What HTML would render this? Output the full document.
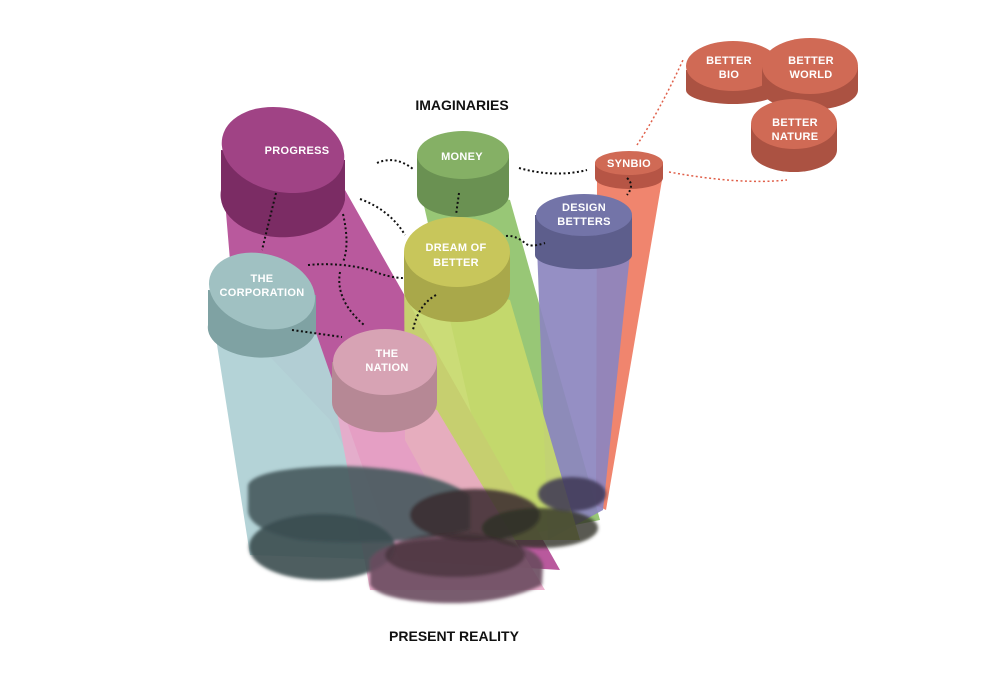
<!DOCTYPE html>
<html><head><meta charset="utf-8"><style>
html,body{margin:0;padding:0;background:#fff;}
svg{display:block;}
text{font-family:"Liberation Sans",sans-serif;font-weight:bold;}
.l{fill:#fff;font-size:11px;text-anchor:middle;letter-spacing:0.3px;}
.d{fill:none;stroke:#111;stroke-width:2;stroke-dasharray:2 2.5;}
.r{fill:none;stroke:#e0604a;stroke-width:1.5;stroke-dasharray:2 2.5;}
</style></head><body>
<svg width="1000" height="691" viewBox="0 0 1000 691" xmlns="http://www.w3.org/2000/svg">
<defs>
<filter id="bl" x="-20%" y="-50%" width="140%" height="200%"><feGaussianBlur stdDeviation="1.5"/></filter>
</defs>
<!-- beams -->
<polygon points="597,180 662,180 606,510 596,505" fill="#f0856e"/>
<polygon points="417,175 510,200 600,520 500,540" fill="#92c46f" opacity="0.95"/>
<polygon points="536,220 632,235 603,510 548,540" fill="#8c86bf" opacity="0.92"/>
<polygon points="222,165 345,190 560,570 400,560 330,420 235,320" fill="#b9599d"/>
<polygon points="404,262 510,300 580,540 460,540 405,440" fill="#c7d96b" opacity="0.92"/>
<polygon points="210,300 315,330 395,560 250,555" fill="#b2d2d6" opacity="0.97"/>
<polygon points="332,385 437,410 545,590 370,590" fill="#eaa9c9" opacity="0.88"/>
<!-- shadows -->
<g filter="url(#bl)">
<path d="M248,485 Q255,468 340,466 Q430,468 470,495 L470,530 Q390,548 300,540 Q248,530 248,510Z" fill="#46595d" opacity="0.9"/>
<ellipse cx="322" cy="547" rx="73" ry="33" fill="#3a4c50" opacity="0.9"/>
<path d="M370,560 Q380,540 450,538 Q535,538 543,565 L542,585 Q500,605 440,603 Q380,600 370,585Z" fill="#6a4a5e" opacity="0.9"/>
<ellipse cx="475" cy="515" rx="65" ry="26" fill="#3a2b30" opacity="0.85"/>
<ellipse cx="540" cy="528" rx="58" ry="20" fill="#303024" opacity="0.8"/>
<ellipse cx="572" cy="494" rx="34" ry="17" fill="#3c3654" opacity="0.85"/>
<ellipse cx="455" cy="555" rx="70" ry="22" fill="#3a2b30" opacity="0.6"/>
</g>
<!-- PROGRESS -->
<path d="M221,150 L221,190 A62,42 0 0 0 345,200 L345,160Z" fill="#7b2c64"/>
<ellipse cx="283" cy="150" rx="62" ry="42" transform="rotate(12 283 150)" fill="#a04385"/>
<!-- MONEY -->
<path d="M417,155 L417,195 A46,22 0 0 0 509,195 L509,155Z" fill="#6a9152"/>
<ellipse cx="463" cy="155" rx="46" ry="24" fill="#85b065"/>
<!-- SYNBIO -->
<path d="M595,163 L595,178 A34,11 0 0 0 663,178 L663,163Z" fill="#b65545"/>
<ellipse cx="629" cy="163" rx="34" ry="12" fill="#d06a55"/>
<!-- DESIGN BETTERS -->
<path d="M535,215 L535,255 A48,14 0 0 0 632,255 L632,215Z" fill="#5d5e8c"/>
<ellipse cx="584" cy="215" rx="48" ry="21" fill="#7374a8"/>
<!-- DREAM OF BETTER -->
<path d="M404,252 L404,290 A53,32 0 0 0 510,290 L510,252Z" fill="#a9a84a"/>
<ellipse cx="457" cy="252" rx="53" ry="35" fill="#c8c65b"/>
<!-- CORPORATION -->
<path d="M208,290 L208,325 A54,30 0 0 0 316,330 L316,295Z" fill="#7fa2a3"/>
<ellipse cx="262" cy="291" rx="54" ry="37" transform="rotate(15 262 291)" fill="#a0c1c2"/>
<!-- NATION -->
<path d="M332,362 L332,402 A52,30 0 0 0 437,402 L437,362Z" fill="#b68895"/>
<ellipse cx="385" cy="362" rx="52" ry="33" fill="#d7a3b4"/>
<!-- BETTER trio -->
<path d="M686,70 L686,90 A47,14 0 0 0 780,90 L780,70Z" fill="#ab5242"/>
<ellipse cx="733" cy="66" rx="47" ry="25" fill="#d06a55"/>
<path d="M762,67 L762,90 A48,20 0 0 0 858,90 L858,67Z" fill="#ab5242"/>
<ellipse cx="810" cy="66" rx="48" ry="28" fill="#d06a55"/>
<path d="M751,125 L751,150 A43,22 0 0 0 837,150 L837,125Z" fill="#ab5242"/>
<ellipse cx="794" cy="124" rx="43" ry="25" fill="#d06a55"/>
<!-- dotted connectors -->
<path class="d" d="M377,163 Q395,155 413,169"/>
<path class="d" d="M519,168 Q555,178 587,170"/>
<path class="d" d="M627,178 Q635,185 627,195"/>
<path class="d" d="M459,193 L456,215"/>
<path class="d" d="M360,199 Q390,210 405,235"/>
<path class="d" d="M506,236 Q515,235 525,243 Q530,248 545,243"/>
<path class="d" d="M276,193 L262,250"/>
<path class="d" d="M343,214 Q350,245 343,262"/>
<path class="d" d="M308,265 Q340,262 370,270 Q390,278 403,278"/>
<path class="d" d="M340,272 Q335,300 364,325"/>
<path class="d" d="M292,330 L342,337"/>
<path class="d" d="M436,295 Q418,305 413,330"/>
<path class="r" d="M637,145 Q660,110 683,60"/>
<path class="r" d="M669,172 Q740,185 787,180"/>
<!-- labels -->
<text x="462" y="110" text-anchor="middle" font-size="14" fill="#111">IMAGINARIES</text>
<text x="454" y="641" text-anchor="middle" font-size="14" fill="#111">PRESENT REALITY</text>
<text class="l" x="297" y="154">PROGRESS</text>
<text class="l" x="462" y="160">MONEY</text>
<text class="l" x="629" y="167">SYNBIO</text>
<text class="l" x="584" y="211">DESIGN</text><text class="l" x="584" y="225">BETTERS</text>
<text class="l" x="456" y="251">DREAM OF</text><text class="l" x="456" y="266">BETTER</text>
<text class="l" x="262" y="282">THE</text><text class="l" x="262" y="296">CORPORATION</text>
<text class="l" x="387" y="357">THE</text><text class="l" x="387" y="371">NATION</text>
<text class="l" x="729" y="64">BETTER</text><text class="l" x="729" y="78">BIO</text>
<text class="l" x="811" y="64">BETTER</text><text class="l" x="811" y="78">WORLD</text>
<text class="l" x="795" y="126">BETTER</text><text class="l" x="795" y="140">NATURE</text>
</svg>
</body></html>
